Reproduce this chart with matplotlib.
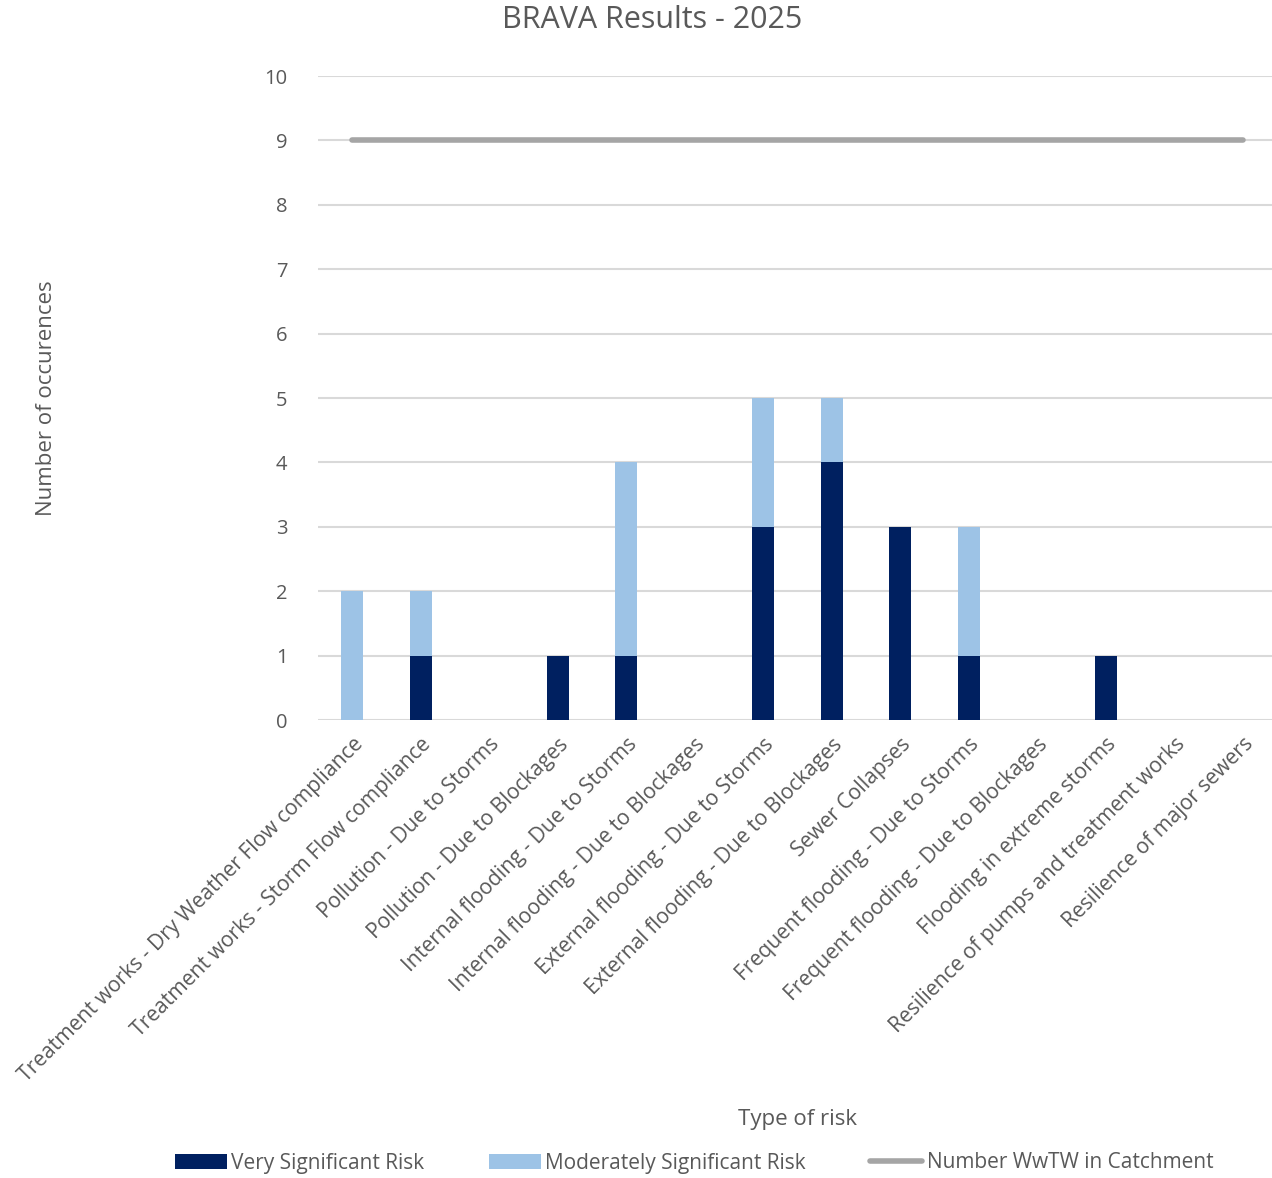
import matplotlib.pyplot as plt
import numpy as np

plt.rcParams['font.family'] = ['Open Sans', 'DejaVu Sans']

categories = [
    "Treatment works - Dry Weather Flow compliance",
    "Treatment works - Storm Flow compliance",
    "Pollution - Due to Storms",
    "Pollution - Due to Blockages",
    "Internal flooding - Due to Storms",
    "Internal flooding - Due to Blockages",
    "External flooding - Due to Storms",
    "External flooding - Due to Blockages",
    "Sewer Collapses",
    "Frequent flooding - Due to Storms",
    "Frequent flooding - Due to Blockages",
    "Flooding in extreme storms",
    "Resilience of pumps and treatment works",
    "Resilience of major sewers",
]
very_significant = [0, 1, 0, 1, 1, 0, 3, 4, 3, 1, 0, 1, 0, 0]
moderately_significant = [2, 1, 0, 0, 3, 0, 2, 1, 0, 2, 0, 0, 0, 0]
wwtw_count = [9] * len(categories)

txt = "#595959"
fig = plt.figure(figsize=(12.72, 11.78), dpi=100)
ax = fig.add_axes([318/1272, 458/1178, 959/1272, 644/1178])

x = np.arange(len(categories))
b1 = ax.bar(x, very_significant, width=0.32, color="#002060", label="Very Significant Risk", zorder=3)
b2 = ax.bar(x, moderately_significant, width=0.32, bottom=very_significant, color="#9DC3E6",
            label="Moderately Significant Risk", zorder=3)
l1, = ax.plot(x, wwtw_count, color="#A5A5A5", lw=4, solid_capstyle="round",
              label="Number WwTW in Catchment", zorder=4)

ax.set_xlim(-0.5, len(categories) - 0.5)
ax.set_ylim(0, 10)
ax.set_yticks(range(0, 11))
ax.grid(axis="y", color="#D9D9D9", lw=1.5, zorder=0)
for s in ax.spines.values():
    s.set_visible(False)
ax.tick_params(axis="both", length=0, colors=txt, labelsize=14.5)
ax.tick_params(axis="y", pad=22)
ax.tick_params(axis="x", pad=10)
ax.set_xticks(x)
ax.set_xticklabels(categories, rotation=45, ha="right", rotation_mode="anchor", color=txt,
                   fontsize=15.2)

fig.text(652/1272, 1 - 20/1178, "BRAVA Results - 2025", fontsize=22, color=txt,
         ha="center", va="center")
fig.text(47/1272, 1 - 398/1178, "Number of occurences", fontsize=16, color=txt,
         ha="center", va="center", rotation=90)
fig.text(798/1272, 1 - 1120/1178, "Type of risk", fontsize=16, color=txt, ha="center", va="center")

fig.legend([b1, b2, l1], [b1.get_label(), b2.get_label(), l1.get_label()],
           loc="center", bbox_to_anchor=(694/1272, 1 - 1163/1178), ncol=3, frameon=False,
           fontsize=15, labelcolor=txt, handlelength=2.5, handleheight=0.7,
           handletextpad=0.2, columnspacing=3.1)

plt.savefig("out.png", dpi=100)
